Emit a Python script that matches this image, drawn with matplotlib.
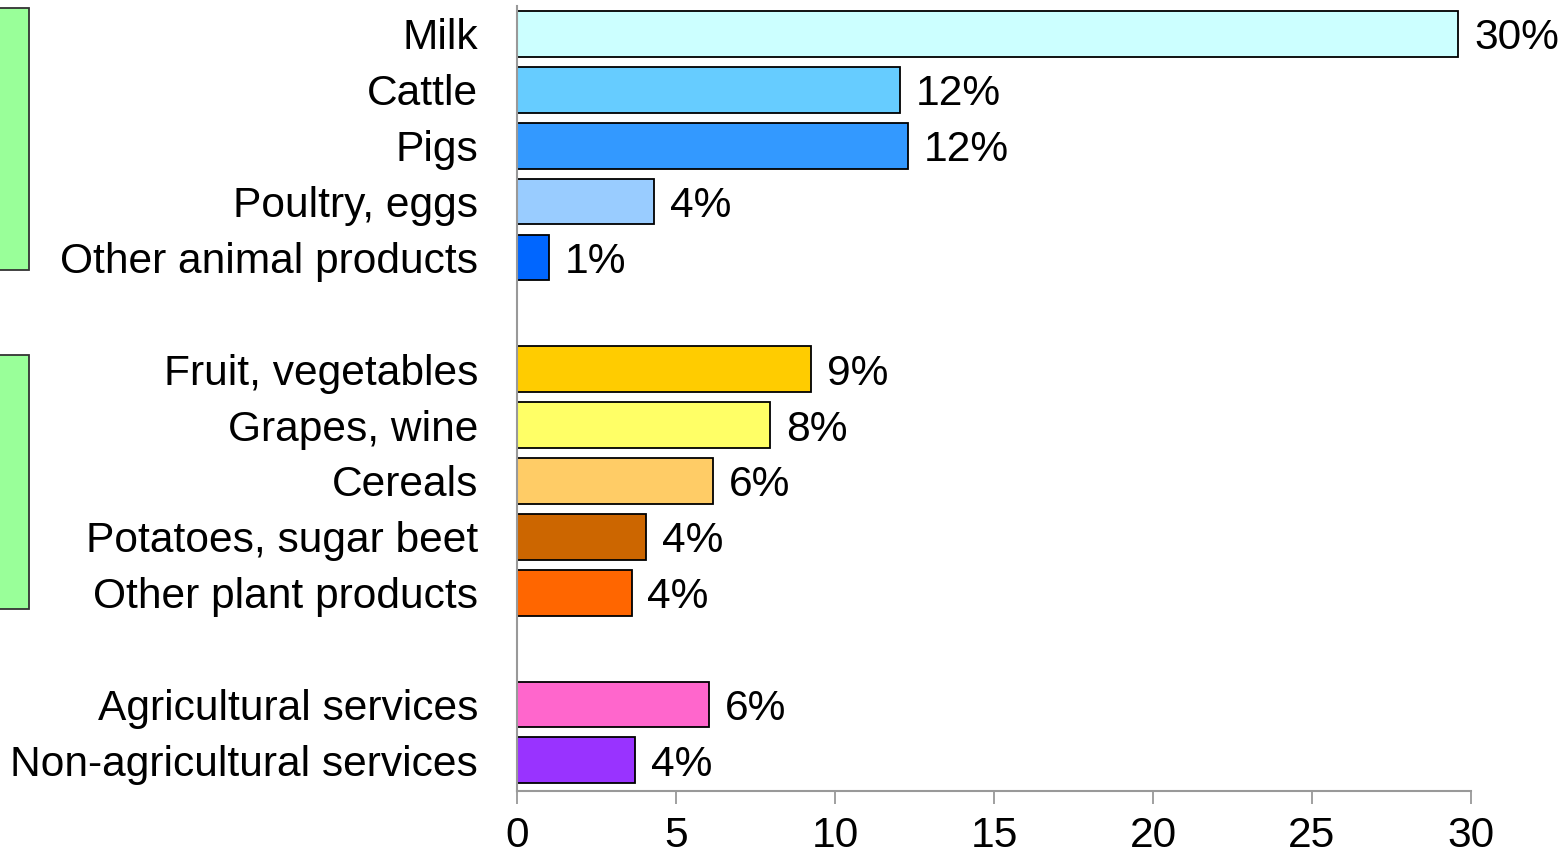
import matplotlib
matplotlib.use("Agg")
import matplotlib.pyplot as plt
from matplotlib.patches import Rectangle

plt.rcParams['font.family'] = ['Liberation Sans', 'DejaVu Sans']

categories = ["Milk", "Cattle", "Pigs", "Poultry, eggs", "Other animal products",
              "Fruit, vegetables", "Grapes, wine", "Cereals", "Potatoes, sugar beet",
              "Other plant products",
              "Agricultural services", "Non-agricultural services"]
shares = [29.6, 12.05, 12.3, 4.3, 1.0,
          9.25, 7.95, 6.15, 4.05, 3.6,
          6.05, 3.7]
colors = ["#CCFFFF", "#66CCFF", "#3399FF", "#99CCFF", "#0066FF",
          "#FFCC00", "#FFFF66", "#FFCC66", "#CC6600", "#FF6600",
          "#FF66CC", "#9933FF"]
# slot index for each bar; blank slots separate the three groups
slots = [0, 1, 2, 3, 4, 6, 7, 8, 9, 10, 12, 13]
xticks = [0, 5, 10, 15, 20, 25, 30]

FS = 30.6

fig = plt.figure(figsize=(15.65, 8.57), dpi=100)
ax = fig.add_axes([0.3304, 0.0770, 0.6095, 0.9160])

ax.barh(slots, shares, height=0.82, color=colors, edgecolor="black", linewidth=1.3)
for y, v in zip(slots, shares):
    ax.text(v + 0.5, y, f"{v:.0f}%", va="center_baseline", ha="left", fontsize=FS)

ax.set_ylim(13.55, -0.5)
ax.set_xlim(0, 30)
ax.set_yticks(slots)
ax.set_yticklabels(categories, fontsize=FS)
ax.tick_params(axis="y", length=0, pad=28)
ax.set_xticks(xticks)
ax.set_xticklabels([str(t) for t in xticks], fontsize=FS)
ax.tick_params(axis="x", length=9, width=1.3, color="#999999", pad=9)

for side in ("top", "right"):
    ax.spines[side].set_visible(False)
for side in ("left", "bottom"):
    ax.spines[side].set_color("#999999")
    ax.spines[side].set_linewidth(1.5)
ax.spines["bottom"].set_bounds(0, 30)

# group brackets at the left edge
for y0, y1 in [(0.685, 0.9907), (0.2894, 0.5858)]:
    fig.patches.append(Rectangle((-0.01, y0), 0.0285, y1 - y0, transform=fig.transFigure,
                                 facecolor="#99FF99", edgecolor="#333333", linewidth=1.3))

fig.savefig("out.png", dpi=100)
